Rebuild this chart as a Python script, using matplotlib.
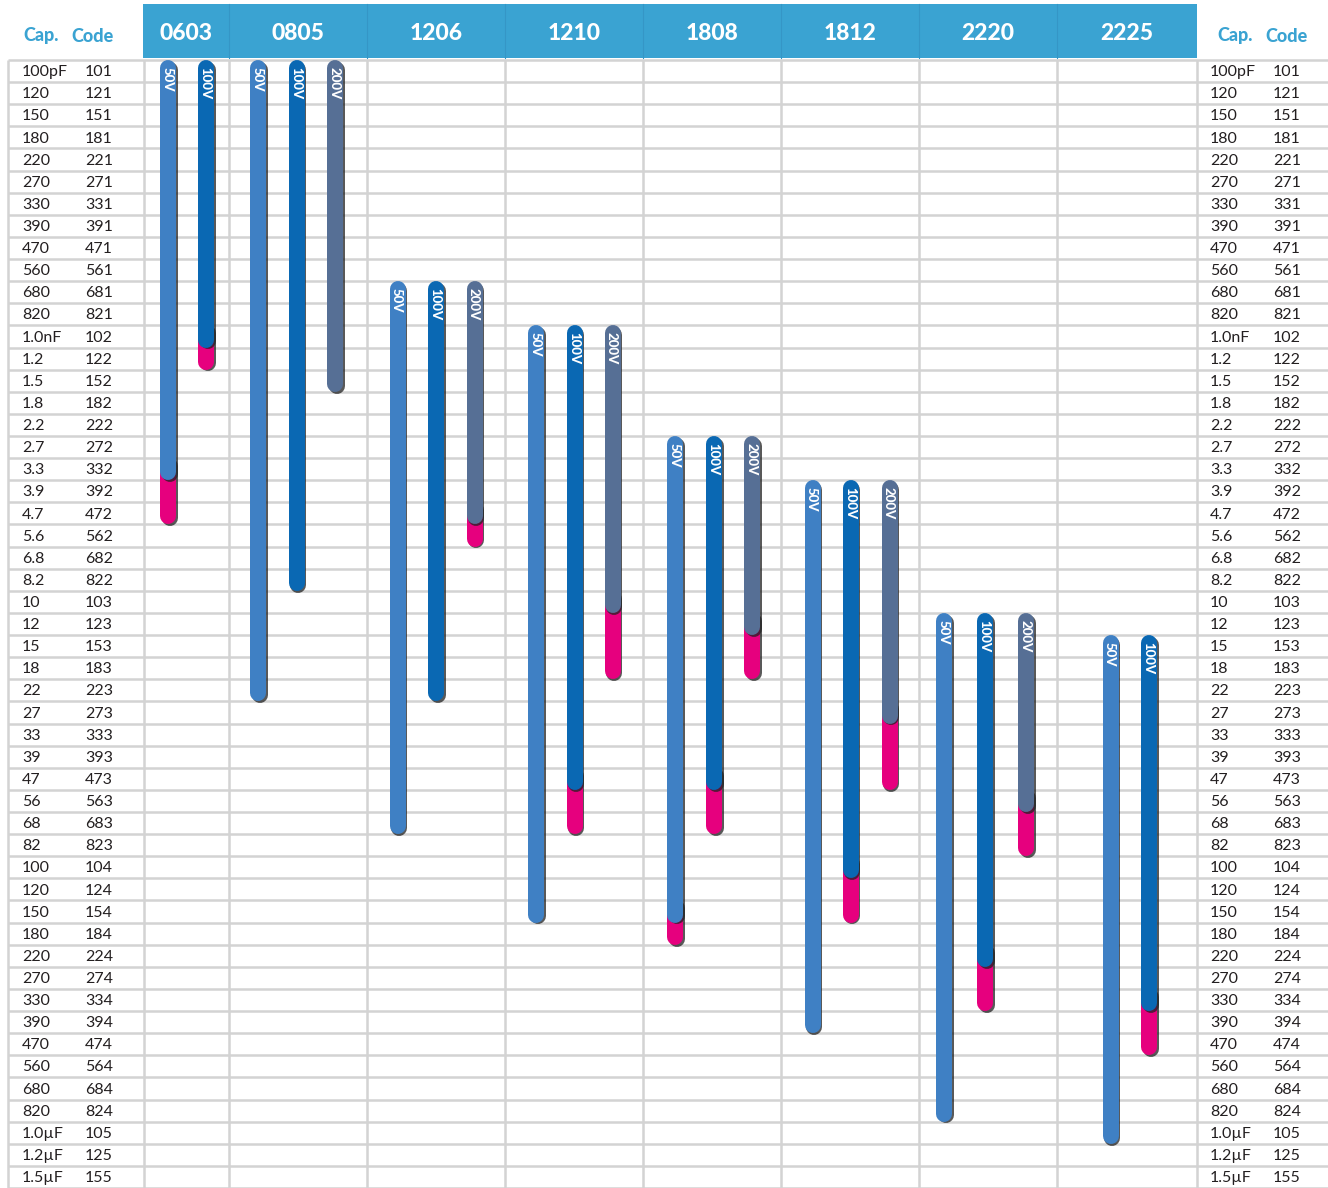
import matplotlib
matplotlib.use("Agg")
import matplotlib.pyplot as plt
import matplotlib.patheffects as pe
from matplotlib.patches import Rectangle

plt.rcParams['font.family'] = ['Lato', 'DejaVu Sans']

# capacitance values / EIA codes, one table row each
caps = ['100pF', '120', '150', '180', '220', '270', '330', '390', '470', '560', '680', '820',
        '1.0nF', '1.2', '1.5', '1.8', '2.2', '2.7', '3.3', '3.9', '4.7', '5.6', '6.8', '8.2',
        '10', '12', '15', '18', '22', '27', '33', '39', '47', '56', '68', '82',
        '100', '120', '150', '180', '220', '270', '330', '390', '470', '560', '680', '820',
        '1.0µF', '1.2µF', '1.5µF']
codes = ['101', '121', '151', '181', '221', '271', '331', '391', '471', '561', '681', '821',
         '102', '122', '152', '182', '222', '272', '332', '392', '472', '562', '682', '822',
         '103', '123', '153', '183', '223', '273', '333', '393', '473', '563', '683', '823',
         '104', '124', '154', '184', '224', '274', '334', '394', '474', '564', '684', '824',
         '105', '125', '155']

case_sizes = ['0603', '0805', '1206', '1210', '1808', '1812', '2220', '2225']
voltages = ['50V', '100V', '200V']

# first code available for each case size
start_code = ['101', '101', '681', '102', '272', '392', '123', '153']
# last code per voltage (None = not offered)
end_50v = ['472', '223', '683', '154', '184', '394', '824', '105']
end_100v = ['122', '822', '223', '683', '683', '154', '334', '474']
end_200v = [None, '152', '562', '183', '183', '473', '823', None]
# first code of the magenta (extended) range
ext_50v = ['392', None, None, None, '184', None, None, None]
ext_100v = ['122', None, None, '563', '563', '124', '274', '394']
ext_200v = [None, None, '562', '123', '153', '333', '683', None]

ends = [end_50v, end_100v, end_200v]
exts = [ext_50v, ext_100v, ext_200v]

# layout (pixels)
W, H = 1328, 1188
top_px = 60
n_rows = len(codes)
rh = (H - top_px) / n_rows
col_edges = [144, 229, 367, 505, 643, 781, 919, 1057, 1197]
bar_x = [[168, 206, None], [258, 296.5, 335], [397.5, 436, 474.5], [536, 574.5, 612.5],
         [675, 714, 752], [812.5, 850.5, 889.5], [944, 985, 1026], [1110.5, 1149, None]]
bar_w = 16

volt_colors = ['#3f80c4', '#0a68b3', '#566f95']
ext_color = '#e6007e'
head_color = '#3aa3d2'
grid_color = '#d3d3d3'
text_color = '#231f20'


def ry(px):
    # pixel y -> row coordinate
    return (px - top_px) / rh - 0.5


fig = plt.figure(figsize=(W / 100, H / 100), dpi=100)
ax = fig.add_axes([0, 0, 1, 1])
ax.set_xlim(0, W)
ax.set_ylim(ry(H), ry(0))
ax.axis('off')

# header band
ax.add_patch(Rectangle((143, ry(58)), 1197 - 143, ry(4) - ry(58),
                       facecolor=head_color, edgecolor='none', zorder=1))
for x in col_edges[1:-1]:
    ax.plot([x, x], [ry(4), ry(58)], color='#3596c6', lw=0.8, zorder=1.5)
for i, name in enumerate(case_sizes):
    ax.text((col_edges[i] + col_edges[i + 1]) / 2, ry(34), name, color='white',
            fontsize=16.5, fontweight='black', ha='center', va='center', zorder=2)

for cx, kx in [(23, 71), (1217, 1265)]:
    ax.text(cx, ry(36), 'Cap.', color=head_color, fontsize=13, fontweight='black',
            ha='left', va='center')
    ax.text(kx, ry(36), 'Code', color=head_color, fontsize=13, fontweight='black',
            ha='left', va='center')

# grid
gw = 1.8
for k in range(n_rows + 1):
    ax.plot([8, W], [k - 0.5, k - 0.5], color=grid_color, lw=gw, zorder=1,
            solid_capstyle='butt')
for x in [8] + col_edges:
    ax.plot([x, x], [-0.5, n_rows - 0.5], color=grid_color, lw=gw, zorder=1,
            solid_capstyle='butt')

# row labels, both sides
for i, (c, code) in enumerate(zip(caps, codes)):
    for cx, kx in [(22, 85), (1210, 1273)]:
        ax.text(cx, i + 0.05, c, color=text_color, fontsize=11.5, ha='left', va='center')
        ax.text(kx, i + 0.05, code, color=text_color, fontsize=11.5, ha='left', va='center')

# voltage bars
lw = bar_w * 72 / 100
rad = (bar_w / 2) / rh
shadow = [pe.SimpleLineShadow(offset=(1.3, -1.3), shadow_color='#222222', alpha=0.75),
          pe.Normal()]

for ci in range(len(case_sizes)):
    top = codes.index(start_code[ci]) - 0.5
    for vi in range(len(voltages)):
        x = bar_x[ci][vi]
        if x is None or ends[vi][ci] is None:
            continue
        bottom = codes.index(ends[vi][ci]) + 0.5
        ext = exts[vi][ci]
        blue_bottom = bottom
        if ext is not None:
            blue_bottom = codes.index(ext) - 0.5
            ax.plot([x, x], [blue_bottom - 2 * rad, bottom - rad], color=ext_color, lw=lw,
                    solid_capstyle='round', path_effects=shadow, zorder=3)
        ax.plot([x, x], [top + rad, blue_bottom - rad], color=volt_colors[vi], lw=lw,
                solid_capstyle='round', path_effects=shadow, zorder=4)
        ax.text(x - 0.5, top + 7 / rh, voltages[vi], color='white', fontsize=9.5,
                fontweight='black', rotation=270, ha='center', va='top', zorder=5)

fig.savefig('out.png', dpi=100, facecolor='white')
